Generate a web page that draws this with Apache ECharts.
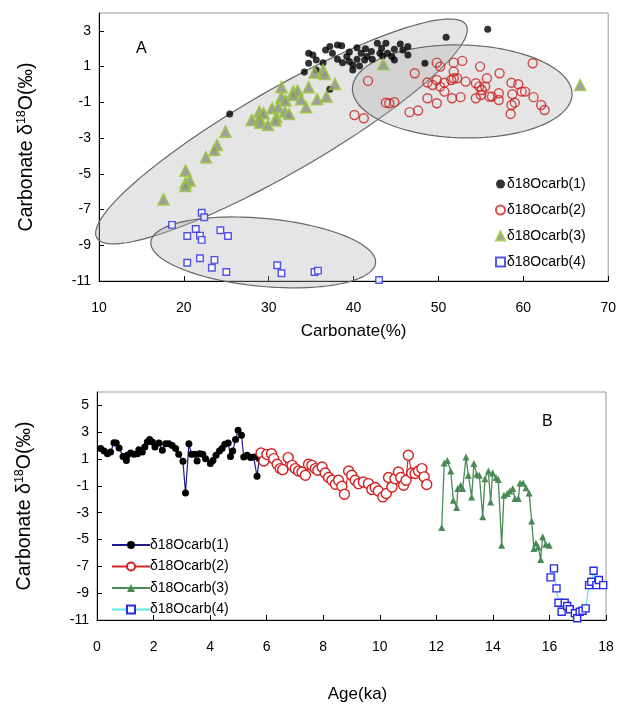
<!DOCTYPE html>
<html><head><meta charset="utf-8">
<script src="https://cdn.jsdelivr.net/npm/echarts@6/dist/echarts.min.js"></script>
<style>html,body{margin:0;padding:0;background:#fff}#c{width:619px;height:706px}</style>
</head><body><div id="c"></div>
<script>
// ---- Panel A: carbonate (%) vs δ18O ----
const topCarb1 = [[25.4,-1.65],[37.2,-0.27],[34.2,0.70],[34.7,1.75],[35.2,1.65],[34.7,1.19],[35.6,1.37],[36.4,1.22],[37.2,2.12],[38.1,2.21],[38.6,2.16],[37.5,1.75],[38.1,1.41],[38.7,1.22],[39.2,1.56],[39.5,1.28],[39.9,1.09],[40.4,1.41],[40.9,1.75],[41.3,1.37],[41.6,1.56],[42.1,1.84],[42.2,1.41],[42.8,2.31],[43.3,2.03],[43.8,2.31],[43.1,1.75],[43.4,1.60],[44.0,1.75],[44.5,1.56],[44.8,1.97],[45.5,2.27],[45.8,1.93],[46.4,2.12],[46.4,1.65],[48.4,1.19],[50.9,2.64],[55.8,3.09],[40.7,1.04],[39.9,0.81],[36.7,1.93],[40.4,2.05],[41.4,2.0],[44.8,1.37],[39.5,1.82],[35.6,0.81]];
const topCarb2 = [[41.7,0.20],[40.1,-1.71],[41.2,-1.89],[43.8,-1.02],[44.2,-1.05],[44.8,-0.99],[46.6,-1.55],[47.6,-1.46],[47.2,0.63],[49.8,1.22],[50.2,1.00],[51.8,1.22],[52.8,1.32],[51.8,0.72],[51.8,0.35],[54.9,1.00],[57.2,0.63],[55.7,0.35],[61.1,1.19],[48.7,0.11],[49.3,-0.03],[49.8,0.25],[50.2,-0.12],[50.7,0.10],[50.7,-0.40],[51.5,0.25],[52.2,0.35],[53.2,0.16],[54.4,0.07],[54.8,-0.12],[55.1,-0.31],[55.5,-0.12],[55.0,-0.59],[56.0,-0.68],[56.3,-0.68],[57.1,-0.49],[57.1,-0.87],[58.6,0.10],[59.4,0.01],[59.8,-0.40],[60.2,-0.40],[58.7,-0.55],[58.6,-1.15],[59.0,-1.02],[58.5,-1.65],[61.2,-0.71],[62.1,-1.15],[62.5,-1.43],[48.7,-0.77],[49.8,-1.05],[51.6,-0.77],[52.6,-0.71],[54.4,-0.77]];
const topCarb3 = [[35.4,0.66],[36.4,0.81],[36.6,0.59],[37.8,0.03],[31.5,-0.15],[32.9,-0.40],[33.4,-0.34],[31.5,-0.71],[32.0,-0.90],[32.9,-0.59],[33.8,-0.83],[34.7,-0.15],[35.7,-0.83],[36.8,-0.68],[34.4,-1.27],[30.4,-1.33],[31.1,-1.27],[31.9,-1.52],[32.4,-1.65],[28.9,-1.52],[29.4,-1.61],[28.0,-1.99],[28.9,-1.89],[29.0,-2.14],[29.9,-2.27],[30.9,-1.83],[30.8,-2.02],[24.9,-2.64],[23.9,-3.39],[23.6,-3.67],[22.6,-4.08],[20.2,-4.82],[20.7,-5.38],[20.2,-5.50],[20.2,-5.68],[17.6,-6.43],[43.5,1.13],[66.7,-0.03]];
const topCarb4 = [[22.1,-7.18],[22.4,-7.43],[18.6,-7.86],[21.4,-8.09],[20.4,-8.48],[21.9,-8.46],[22.1,-8.70],[24.3,-8.16],[25.2,-8.48],[20.4,-9.98],[21.9,-9.73],[23.6,-9.82],[23.3,-10.26],[25.0,-10.50],[31.0,-10.12],[31.5,-10.57],[35.4,-10.50],[35.8,-10.42],[43.0,-10.94]];
// cluster ellipses: centre, two conjugate semi-axis vectors (data units)
const ellipseCenters = [[31.5,-2.63],[52.8,-0.39],[29.35,-9.40]];
const ellipseAxisU = [[21.76,5.96],[12.94,-0.14],[13.24,-0.588]];
const ellipseAxisV = [[2.45,-2.02],[0,2.6],[-0.37,-1.895]];

// ---- Panel B: age (ka) vs δ18O ----
const age1 = [[0.13,1.78],[0.25,1.60],[0.37,1.40],[0.48,1.52],[0.60,2.22],[0.68,2.19],[0.78,1.82],[0.92,1.20],[1.04,0.90],[1.07,1.28],[1.19,1.45],[1.31,1.35],[1.43,1.40],[1.48,1.70],[1.60,1.52],[1.69,1.89],[1.78,2.27],[1.86,2.45],[1.96,2.27],[2.05,1.89],[2.19,2.19],[2.31,1.65],[2.43,2.15],[2.54,2.15],[2.66,2.02],[2.78,1.78],[2.89,1.35],[3.04,0.83],[3.13,-1.53],[3.25,2.15],[3.34,1.35],[3.46,1.35],[3.54,0.85],[3.63,1.40],[3.74,1.35],[3.84,1.03],[4.01,0.66],[4.10,0.90],[4.21,1.28],[4.33,1.60],[4.42,1.78],[4.52,2.10],[4.64,2.19],[4.72,1.20],[4.80,1.60],[4.90,2.45],[4.99,3.14],[5.11,2.77],[5.19,1.15],[5.31,1.28],[5.43,1.11],[5.54,1.15],[5.66,-0.29],[5.74,1.03]];
const age2 = [[5.80,1.45],[5.90,0.85],[6.01,1.35],[6.17,1.40],[6.25,1.03],[6.37,0.61],[6.48,0.29],[6.57,0.21],[6.76,1.11],[6.90,0.53],[7.01,0.29],[7.13,0.11],[7.25,0.03],[7.37,-0.21],[7.48,0.61],[7.60,0.53],[7.72,0.29],[7.81,0.16],[7.96,0.41],[8.07,-0.04],[8.19,-0.38],[8.31,-0.58],[8.43,-0.88],[8.54,-0.58],[8.66,-1.03],[8.75,-1.62],[8.90,0.11],[9.01,-0.21],[9.13,-0.58],[9.25,-0.83],[9.42,-0.71],[9.60,-0.83],[9.72,-1.27],[9.84,-1.12],[9.95,-1.38],[10.11,-1.82],[10.23,-1.57],[10.31,-0.38],[10.43,-1.08],[10.54,-0.46],[10.66,0.03],[10.74,-0.38],[10.84,-0.95],[10.93,-0.58],[11.01,1.28],[11.13,-0.04],[11.25,-0.08],[11.37,0.11],[11.49,0.29],[11.57,-0.33],[11.66,-0.90]];
const age3 = [[12.19,-4.10],[12.28,0.71],[12.39,0.90],[12.51,0.11],[12.60,-2.07],[12.72,-2.61],[12.76,-1.20],[12.86,-0.95],[12.93,-1.20],[13.05,1.15],[13.13,-0.21],[13.25,-1.82],[13.33,0.66],[13.43,-0.14],[13.52,-0.21],[13.64,-3.31],[13.72,-0.46],[13.84,0.11],[13.92,-2.20],[13.99,-0.04],[14.11,-0.38],[14.19,-0.53],[14.31,-5.42],[14.39,-1.70],[14.51,-1.57],[14.60,-1.38],[14.70,-1.20],[14.78,-1.95],[14.90,-1.95],[14.96,-0.78],[15.07,-0.78],[15.17,-1.13],[15.28,-1.53],[15.37,-3.61],[15.45,-5.67],[15.52,-5.25],[15.60,-5.55],[15.69,-6.48],[15.76,-4.80],[15.87,-5.35],[15.99,-5.42]];
const age4 = [[16.04,-7.82],[16.16,-7.15],[16.25,-8.64],[16.32,-9.71],[16.43,-10.38],[16.54,-9.71],[16.63,-9.96],[16.72,-10.20],[16.90,-10.50],[16.98,-10.87],[17.07,-10.38],[17.17,-10.31],[17.28,-10.13],[17.40,-8.40],[17.48,-8.15],[17.56,-7.33],[17.66,-8.40],[17.75,-8.02],[17.90,-8.40]];

const seriesLabels = ['δ18Ocarb(1)','δ18Ocarb(2)','δ18Ocarb(3)','δ18Ocarb(4)'];
const carbTicks = {min:10, max:70, interval:10};
const d18TicksA = {min:-11, max:4, interval:2};
const ageTicks = {min:0, max:18, interval:2};
const d18TicksB = {min:-11, max:6, interval:2};

const FONT = '"Liberation Sans", Arial, sans-serif';
const chart = echarts.init(document.getElementById('c'), null, {renderer:'canvas'});
const labelName = n => seriesLabels[+n.slice(1)-1];
const yName = '{a|Carbonate δ}{s|18}{a|O(‰)}';
const yNameStyle = {rich:{a:{fontSize:19.5,fontFamily:FONT,color:'#000',lineHeight:24},s:{fontSize:12.5,fontFamily:FONT,color:'#000',verticalAlign:'top',lineHeight:24,padding:[0,0,9,0]}}};
function valAxis(t, grid, extra){
  return Object.assign({type:'value', gridIndex:grid, min:t.min, max:t.max, interval:t.interval,
    axisLine:{show:true,onZero:false,lineStyle:{color:'#000',width:1}},
    axisTick:{show:true,inside:true,length:5,lineStyle:{color:'#000'}},
    splitLine:{show:false},
    axisLabel:{color:'#000',fontSize:14,fontFamily:FONT,showMaxLabel:false}}, extra);
}

const option = {
  animation:false,
  backgroundColor:'#fff',
  grid:[
    {left:99, right:10, top:13, height:268, show:true, borderColor:'#999', borderWidth:1},
    {left:97, right:13, top:392, height:228, show:true, borderColor:'#999', borderWidth:1}
  ],
  xAxis:[
    valAxis(carbTicks,0,{name:'Carbonate(%)',nameLocation:'middle',nameGap:42,nameTextStyle:{fontSize:17,fontFamily:FONT,color:'#000'},axisLabel:{color:'#000',fontSize:14,fontFamily:FONT,margin:20}}),
    valAxis(ageTicks,1,{name:'Age(ka)',nameLocation:'middle',nameGap:66,nameTextStyle:{fontSize:17,fontFamily:FONT,color:'#000',padding:[0,0,0,12]},axisLabel:{color:'#000',fontSize:14,fontFamily:FONT,margin:20}})
  ],
  yAxis:[
    valAxis(d18TicksA,0,{name:yName,nameLocation:'middle',nameGap:60,nameTextStyle:yNameStyle}),
    valAxis(d18TicksB,1,{name:yName,nameLocation:'middle',nameGap:60,nameTextStyle:yNameStyle})
  ],
  legend:[
    {orient:'vertical', left:490, top:172, itemGap:12, itemWidth:9, itemHeight:9, selectedMode:false,
     data:['A1','A2','A3','A4'], formatter:labelName, textStyle:{fontSize:14,fontFamily:FONT,color:'#000',padding:[0,0,0,-3]}},
    {orient:'vertical', left:106, top:533, itemGap:7.5, itemWidth:38, itemHeight:10, selectedMode:false,
     data:['B1','B2','B3','B4'], formatter:labelName, textStyle:{fontSize:14,fontFamily:FONT,color:'#000',padding:[0,0,0,-5]}}
  ],
  graphic:[
    {type:'text', left:136, top:41, style:{text:'A', fontSize:16, fontFamily:FONT, fill:'#000'}},
    {type:'text', left:542, top:414, style:{text:'B', fontSize:16, fontFamily:FONT, fill:'#000'}}
  ],
  series:[
    {type:'custom', xAxisIndex:0, yAxisIndex:0, clip:false, z:1, silent:true,
     data:ellipseCenters.map((c,i)=>[c[0],c[1],i]),
     renderItem:function(params, api){
       const i = params.dataIndex, c = ellipseCenters[i], u = ellipseAxisU[i], v = ellipseAxisV[i];
       const pts = [];
       for(let k=0;k<120;k++){
         const t = k/120*Math.PI*2, ct=Math.cos(t), st=Math.sin(t);
         pts.push(api.coord([c[0]+u[0]*ct+v[0]*st, c[1]+u[1]*ct+v[1]*st]));
       }
       return {type:'polygon', shape:{points:pts}, style:{fill:'rgba(175,175,175,0.32)', stroke:'#666', lineWidth:1.2}};
     }},
    {name:'A1', type:'scatter', xAxisIndex:0, yAxisIndex:0, z:3, data:topCarb1, symbol:'circle', symbolSize:7,
     itemStyle:{color:'#000'}},
    {name:'A2', type:'scatter', xAxisIndex:0, yAxisIndex:0, z:3, data:topCarb2, symbol:'circle', symbolSize:9,
     itemStyle:{color:'rgba(255,255,255,0)', borderColor:'#cc2020', borderWidth:1.4}},
    {name:'A3', type:'scatter', xAxisIndex:0, yAxisIndex:0, z:3, data:topCarb3, symbol:'triangle', symbolSize:11,
     itemStyle:{color:'#8c8c8c', borderColor:'#9ac83a', borderWidth:1.6}},
    {name:'A4', type:'scatter', xAxisIndex:0, yAxisIndex:0, z:3, data:topCarb4, symbol:'rect', symbolSize:6.5,
     itemStyle:{color:'#fff', borderColor:'#2a2ae6', borderWidth:1.4}},
    {name:'B1', type:'line', xAxisIndex:1, yAxisIndex:1, data:age1, symbol:'circle', symbolSize:7, showAllSymbol:true,
     lineStyle:{color:'#1c1c8a', width:1.2}, itemStyle:{color:'#000', borderColor:'#000', borderWidth:0}},
    {name:'B2', type:'line', xAxisIndex:1, yAxisIndex:1, data:age2, symbol:'circle', symbolSize:10, showAllSymbol:true,
     lineStyle:{color:'#d42a2a', width:1.2}, itemStyle:{color:'#fff', borderColor:'#d42020', borderWidth:1.4}},
    {name:'B3', type:'line', xAxisIndex:1, yAxisIndex:1, data:age3, symbol:'triangle', symbolSize:7, showAllSymbol:true,
     lineStyle:{color:'#4a8a55', width:1.3}, itemStyle:{color:'#4a8a55', borderColor:'#4a8a55', borderWidth:0}},
    {name:'B4', type:'line', xAxisIndex:1, yAxisIndex:1, data:age4, symbol:'rect', symbolSize:7, showAllSymbol:true,
     lineStyle:{color:'#5ee6f0', width:1.2}, itemStyle:{color:'#fff', borderColor:'#2a2ae6', borderWidth:1.4}}
  ]
};
chart.setOption(option);
</script></body></html>
